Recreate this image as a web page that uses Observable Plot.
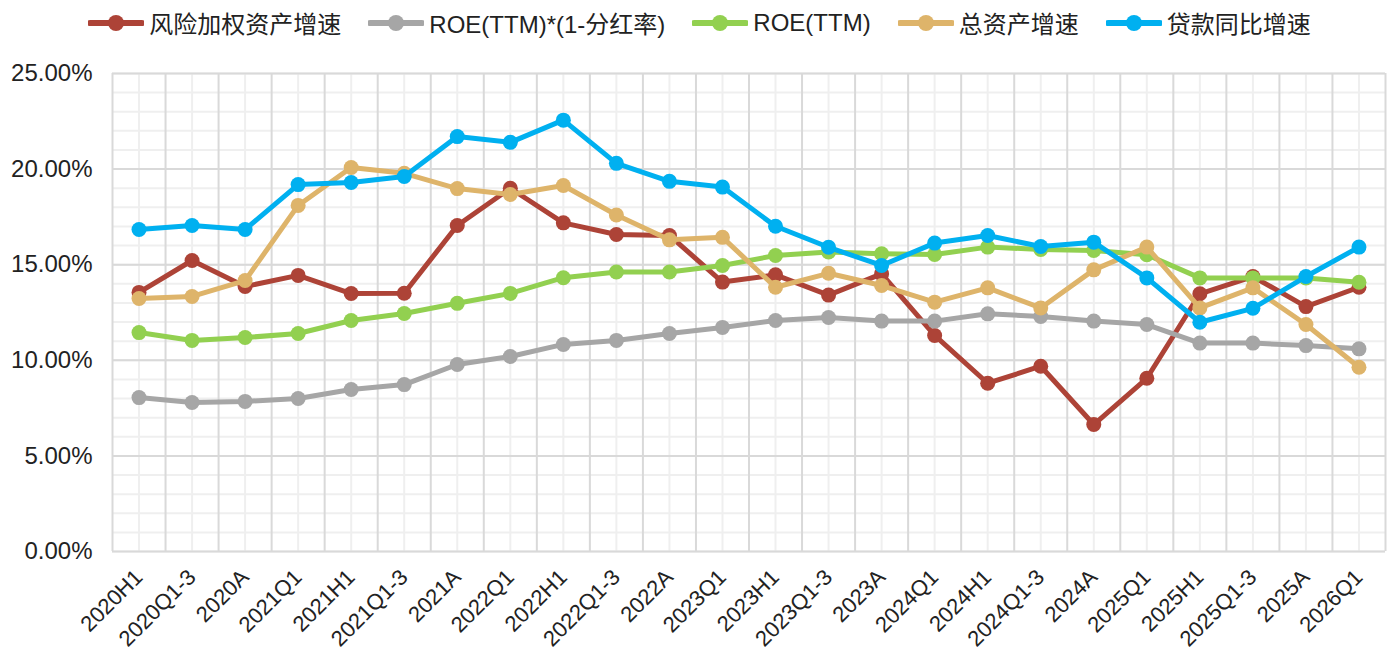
<!DOCTYPE html>
<html>
<head>
<meta charset="utf-8">
<script src="https://cdn.jsdelivr.net/npm/d3@7"></script>
<script src="https://cdn.jsdelivr.net/npm/@observablehq/plot@0.6"></script>
<style>
  html, body { margin: 0; padding: 0; background: #fff; }
  body { width: 1393px; height: 657px; overflow: hidden; font-family: "Liberation Sans", Arial, "Noto Sans CJK SC", sans-serif; }
  #legend { height: 45px; display: flex; justify-content: center; align-items: center; gap: 27px; color: #222; font-size: 24px; padding-left: 6px; }
  .item { display: flex; align-items: center; white-space: nowrap; }
  .item svg { margin-right: 5px; }
  .item span { font-family: "Liberation Sans", Arial, "Noto Sans CJK SC", sans-serif; }
</style>
</head>
<body>
<div id="legend"></div>
<div id="chart"></div>
<script>
const categories = ["2020H1","2020Q1-3","2020A","2021Q1","2021H1","2021Q1-3","2021A","2022Q1","2022H1","2022Q1-3","2022A","2023Q1","2023H1","2023Q1-3","2023A","2024Q1","2024H1","2024Q1-3","2024A","2025Q1","2025H1","2025Q1-3","2025A","2026Q1"];

const seriesNames = ["风险加权资产增速", "ROE(TTM)*(1-分红率)", "ROE(TTM)", "总资产增速", "贷款同比增速"];
const seriesColors = ["#ad4337", "#a6a6a6", "#92d050", "#deb46a", "#00b0f0"];

const riskWeightedGrowth = [13.55,15.22,13.86,14.44,13.49,13.51,17.05,19.0,17.19,16.58,16.53,14.09,14.47,13.41,14.52,11.3,8.8,9.69,6.64,9.06,13.48,14.38,12.81,13.82];
const roeRetained = [8.05,7.79,7.85,8.0,8.47,8.73,9.78,10.2,10.83,11.04,11.4,11.72,12.08,12.24,12.05,12.05,12.43,12.29,12.05,11.87,10.9,10.9,10.77,10.6];
const roeTTM = [11.45,11.04,11.19,11.4,12.08,12.45,12.98,13.5,14.32,14.62,14.62,14.96,15.48,15.67,15.57,15.53,15.92,15.8,15.74,15.52,14.31,14.31,14.31,14.08];
const totalAssetGrowth = [13.23,13.34,14.17,18.1,20.08,19.78,18.98,18.67,19.14,17.6,16.3,16.43,13.82,14.55,13.91,13.04,13.79,12.74,14.73,15.92,12.74,13.79,11.87,9.64];
const loanGrowth = [16.84,17.05,16.84,19.19,19.3,19.61,21.7,21.4,22.56,20.3,19.36,19.06,17.01,15.91,14.96,16.13,16.53,15.95,16.18,14.31,11.99,12.72,14.38,15.92];

const seriesValues = [riskWeightedGrowth, roeRetained, roeTTM, totalAssetGrowth, loanGrowth];

const yMajorTicks = [0, 5, 10, 15, 20, 25];
const yMinorTicks = d3.range(0, 26, 1);

// Legend
const legend = document.getElementById("legend");
seriesNames.forEach((name, k) => {
  const item = document.createElement("div");
  item.className = "item";
  item.innerHTML = `<svg width="56" height="20"><line x1="2" y1="10" x2="54" y2="10" stroke="${seriesColors[k]}" stroke-width="6" stroke-linecap="round"/><circle cx="28" cy="10" r="8" fill="${seriesColors[k]}"/></svg><span>${name}</span>`;
  legend.appendChild(item);
});

const idx = d3.range(categories.length);
const seriesMarks = seriesValues.flatMap((vals, k) => {
  const data = idx.map(i => ({i, v: vals[i]}));
  return [
    Plot.line(data, {x: "i", y: "v", stroke: seriesColors[k], strokeWidth: 5, strokeLinejoin: "round"}),
    Plot.dot(data, {x: "i", y: "v", fill: seriesColors[k], r: 7.5})
  ];
});

const chart = Plot.plot({
  width: 1393,
  height: 612,
  marginLeft: 112,
  marginRight: 8,
  marginTop: 28,
  marginBottom: 106,
  style: {fontFamily: '"Liberation Sans", Arial, sans-serif', color: "#222", background: "#fff"},
  x: {type: "linear", domain: [-0.5, categories.length - 0.5]},
  y: {domain: [0, 25]},
  marks: [
    Plot.ruleY(yMinorTicks, {stroke: "#efefef", strokeWidth: 2}),
    Plot.ruleX(idx, {stroke: "#efefef", strokeWidth: 2}),
    Plot.ruleY(yMajorTicks, {stroke: "#d9d9d9", strokeWidth: 2}),
    Plot.ruleX(d3.range(-0.5, categories.length, 1), {stroke: "#d9d9d9", strokeWidth: 2}),
    Plot.axisY({ticks: yMajorTicks, tickSize: 0, tickPadding: 20, tickFormat: d => d.toFixed(2) + "%", fontSize: 24, label: null}),
    Plot.axisX({ticks: idx, tickSize: 0, tickPadding: 22, tickRotate: -45, tickFormat: i => categories[i], fontSize: 22, label: null}),
    ...seriesMarks
  ]
});
document.getElementById("chart").appendChild(chart);
</script>
</body>
</html>
